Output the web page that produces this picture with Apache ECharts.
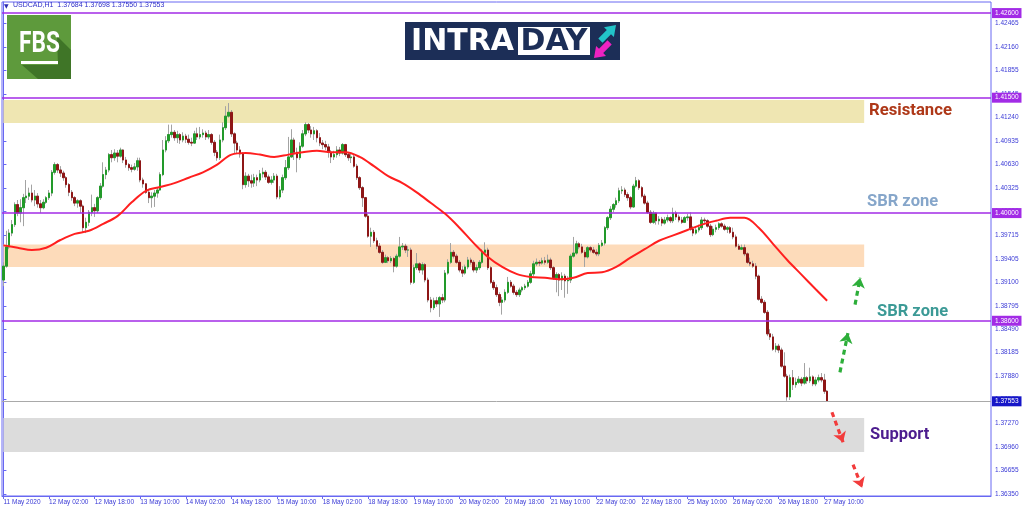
<!DOCTYPE html>
<html><head><meta charset="utf-8">
<script src="https://cdn.jsdelivr.net/npm/echarts@6/dist/echarts.min.js"></script>
<style>html,body{margin:0;padding:0;background:#fff}#c{width:1024px;height:511px}</style>
</head><body><div id="c"></div>
<script>
// ---------------- DATA ----------------
const SLOTS = 347; // bar slots shown on the time axis (incl. empty right margin)
const xTickLabels = ["11 May 2020","12 May 02:00","12 May 18:00","13 May 10:00","14 May 02:00","14 May 18:00","15 May 10:00","18 May 02:00","18 May 18:00","19 May 10:00","20 May 02:00","20 May 18:00","21 May 10:00","22 May 02:00","22 May 18:00","25 May 10:00","26 May 02:00","26 May 18:00","27 May 10:00"];
const yTickValues = [1.42465,1.42160,1.41855,1.41545,1.41240,1.40935,1.40630,1.40325,1.40020,1.39715,1.39405,1.39100,1.38795,1.38490,1.38185,1.37880,1.37575,1.37270,1.36960,1.36655,1.36350];

const opens = [1.3913,1.3931,1.3956,1.3974,1.3985,1.4011,1.4000,1.4007,1.4020,1.4022,
1.4026,1.4017,1.4022,1.4012,1.4007,1.4014,1.4020,1.4026,1.4053,1.4063,
1.4056,1.4052,1.4046,1.4037,1.4027,1.4020,1.4013,1.4016,1.4009,1.3981,
1.3988,1.4001,1.4007,1.4003,1.4020,1.4035,1.4050,1.4056,1.4076,1.4072,
1.4078,1.4074,1.4082,1.4069,1.4063,1.4059,1.4057,1.4060,1.4068,1.4043,
1.4038,1.4027,1.4020,1.4022,1.4026,1.4030,1.4050,1.4082,1.4094,1.4102,
1.4105,1.4098,1.4102,1.4095,1.4100,1.4096,1.4092,1.4091,1.4103,1.4099,
1.4102,1.4104,1.4099,1.4102,1.4092,1.4079,1.4072,1.4095,1.4111,1.4126,
1.4131,1.4103,1.4091,1.4082,1.4077,1.4037,1.4048,1.4042,1.4039,1.4046,
1.4043,1.4051,1.4053,1.4047,1.4040,1.4043,1.4048,1.4021,1.4030,1.4046,
1.4059,1.4073,1.4095,1.4079,1.4072,1.4087,1.4103,1.4115,1.4108,1.4103,
1.4107,1.4098,1.4091,1.4089,1.4086,1.4079,1.4073,1.4076,1.4082,1.4078,
1.4089,1.4076,1.4072,1.4073,1.4061,1.4046,1.4033,1.4020,1.3996,1.3970,
1.3975,1.3964,1.3957,1.3949,1.3936,1.3942,1.3938,1.3941,1.3931,1.3944,
1.3956,1.3957,1.3952,1.3952,1.3910,1.3929,1.3934,1.3926,1.3933,1.3913,
1.3887,1.3877,1.3886,1.3882,1.3890,1.3887,1.3922,1.3936,1.3949,1.3944,
1.3936,1.3926,1.3922,1.3930,1.3939,1.3936,1.3926,1.3929,1.3936,1.3949,
1.3952,1.3929,1.3910,1.3903,1.3894,1.3884,1.3887,1.3897,1.3910,1.3905,
1.3897,1.3894,1.3900,1.3903,1.3905,1.3910,1.3921,1.3934,1.3936,1.3935,
1.3938,1.3936,1.3939,1.3929,1.3916,1.3920,1.3913,1.3918,1.3912,1.3913,
1.3944,1.3948,1.3960,1.3956,1.3949,1.3943,1.3955,1.3952,1.3949,1.3947,
1.3958,1.3961,1.3981,1.3994,1.4005,1.4011,1.4016,1.4029,1.4030,1.4024,
1.4020,1.4008,1.4035,1.4042,1.4033,1.4022,1.4013,1.4001,1.3988,1.4000,
1.3990,1.3992,1.3987,1.3991,1.3994,1.3990,1.4000,1.3995,1.3991,1.3988,
1.3994,1.3995,1.3979,1.3974,1.3978,1.3981,1.3991,1.3990,1.3983,1.3972,
1.3979,1.3981,1.3986,1.3983,1.3979,1.3981,1.3975,1.3969,1.3957,1.3953,
1.3955,1.3947,1.3936,1.3934,1.3931,1.3918,1.3888,1.3884,1.3871,1.3843,
1.3839,1.3823,1.3827,1.3822,1.3801,1.3788,1.3761,1.3786,1.3777,1.3780,
1.3784,1.3779,1.3786,1.3782,1.3787,1.3778,1.3783,1.3786,1.3783,1.37684];

const closes = [1.3931,1.3956,1.3974,1.3985,1.4011,1.4000,1.4007,1.4020,1.4022,1.4026,
1.4017,1.4022,1.4012,1.4007,1.4014,1.4020,1.4026,1.4053,1.4063,1.4056,
1.4052,1.4046,1.4037,1.4027,1.4020,1.4013,1.4016,1.4009,1.3981,1.3988,
1.4001,1.4007,1.4003,1.4020,1.4035,1.4050,1.4056,1.4076,1.4072,1.4078,
1.4074,1.4082,1.4069,1.4063,1.4059,1.4057,1.4060,1.4068,1.4043,1.4038,
1.4027,1.4020,1.4022,1.4026,1.4030,1.4050,1.4082,1.4094,1.4102,1.4105,
1.4098,1.4102,1.4095,1.4100,1.4096,1.4092,1.4091,1.4103,1.4099,1.4102,
1.4104,1.4099,1.4102,1.4092,1.4079,1.4072,1.4095,1.4111,1.4126,1.4131,
1.4103,1.4091,1.4082,1.4077,1.4037,1.4048,1.4042,1.4039,1.4046,1.4043,
1.4051,1.4053,1.4047,1.4040,1.4043,1.4048,1.4021,1.4030,1.4046,1.4059,
1.4073,1.4095,1.4079,1.4072,1.4087,1.4103,1.4115,1.4108,1.4103,1.4107,
1.4098,1.4091,1.4089,1.4086,1.4079,1.4073,1.4076,1.4082,1.4078,1.4089,
1.4076,1.4072,1.4073,1.4061,1.4046,1.4033,1.4020,1.3996,1.3970,1.3975,
1.3964,1.3957,1.3949,1.3936,1.3942,1.3938,1.3941,1.3931,1.3944,1.3956,
1.3957,1.3952,1.3952,1.3910,1.3929,1.3934,1.3926,1.3933,1.3913,1.3887,
1.3877,1.3886,1.3882,1.3890,1.3887,1.3922,1.3936,1.3949,1.3944,1.3936,
1.3926,1.3922,1.3930,1.3939,1.3936,1.3926,1.3929,1.3936,1.3949,1.3952,
1.3929,1.3910,1.3903,1.3894,1.3884,1.3887,1.3897,1.3910,1.3905,1.3897,
1.3894,1.3900,1.3903,1.3905,1.3910,1.3921,1.3934,1.3936,1.3935,1.3938,
1.3936,1.3939,1.3929,1.3916,1.3920,1.3913,1.3918,1.3912,1.3913,1.3944,
1.3948,1.3960,1.3956,1.3949,1.3943,1.3955,1.3952,1.3949,1.3947,1.3958,
1.3961,1.3981,1.3994,1.4005,1.4011,1.4016,1.4029,1.4030,1.4024,1.4020,
1.4008,1.4035,1.4042,1.4033,1.4022,1.4013,1.4001,1.3988,1.4000,1.3990,
1.3992,1.3987,1.3991,1.3994,1.3990,1.4000,1.3995,1.3991,1.3988,1.3994,
1.3995,1.3979,1.3974,1.3978,1.3981,1.3991,1.3990,1.3983,1.3972,1.3979,
1.3981,1.3986,1.3983,1.3979,1.3981,1.3975,1.3969,1.3957,1.3953,1.3955,
1.3947,1.3936,1.3934,1.3931,1.3918,1.3888,1.3884,1.3871,1.3843,1.3839,
1.3823,1.3827,1.3822,1.3801,1.3788,1.3761,1.3786,1.3777,1.3780,1.3784,
1.3779,1.3786,1.3782,1.3787,1.3778,1.3783,1.3786,1.3783,1.37684,1.37553];

const highs = [1.3936,1.3977,1.3979,1.3991,1.4014,1.4017,1.4018,1.4025,1.4043,1.4033,
1.4037,1.4030,1.4026,1.4017,1.4018,1.4022,1.4030,1.4056,1.4066,1.4065,
1.4061,1.4055,1.4048,1.4039,1.4030,1.4022,1.4018,1.4018,1.4011,1.3994,
1.4004,1.4024,1.4012,1.4022,1.4039,1.4066,1.4060,1.4078,1.4082,1.4083,
1.4082,1.4085,1.4083,1.4073,1.4065,1.4063,1.4065,1.4072,1.4072,1.4046,
1.4039,1.4030,1.4027,1.4030,1.4033,1.4053,1.4095,1.4100,1.4115,1.4115,
1.4108,1.4107,1.4104,1.4105,1.4103,1.4102,1.4098,1.4107,1.4111,1.4112,
1.4109,1.4107,1.4108,1.4104,1.4095,1.4082,1.4102,1.4118,1.4139,1.4143,
1.4134,1.4105,1.4094,1.4087,1.4079,1.4053,1.4051,1.4050,1.4051,1.4050,
1.4056,1.4059,1.4056,1.4050,1.4048,1.4052,1.4051,1.4035,1.4050,1.4069,
1.4099,1.4109,1.4098,1.4085,1.4092,1.4108,1.4118,1.4117,1.4113,1.4112,
1.4109,1.4104,1.4095,1.4094,1.4090,1.4082,1.4081,1.4087,1.4086,1.4091,
1.4090,1.4079,1.4078,1.4076,1.4064,1.4048,1.4035,1.4021,1.3999,1.3981,
1.3978,1.3968,1.3961,1.3952,1.3946,1.3944,1.3944,1.3943,1.3947,1.3969,
1.3961,1.3960,1.3957,1.3955,1.3933,1.3948,1.3936,1.3936,1.3935,1.3916,
1.3891,1.3890,1.3891,1.3892,1.3895,1.3926,1.3940,1.3961,1.3952,1.3947,
1.3939,1.3931,1.3933,1.3943,1.3942,1.3939,1.3933,1.3939,1.3953,1.3962,
1.3955,1.3931,1.3913,1.3907,1.3897,1.3891,1.3901,1.3917,1.3913,1.3908,
1.3900,1.3903,1.3905,1.3908,1.3913,1.3925,1.3938,1.3941,1.3939,1.3942,
1.3943,1.3946,1.3942,1.3931,1.3923,1.3922,1.3923,1.3921,1.3918,1.3947,
1.3969,1.3964,1.3962,1.3960,1.3952,1.3957,1.3957,1.3956,1.3953,1.3961,
1.3965,1.3983,1.3996,1.4009,1.4013,1.4020,1.4033,1.4035,1.4033,1.4027,
1.4022,1.4038,1.4047,1.4044,1.4035,1.4025,1.4016,1.4004,1.4003,1.4001,
1.3996,1.3995,1.3995,1.3998,1.3996,1.4007,1.4003,1.3998,1.3995,1.3996,
1.3999,1.4001,1.3983,1.3983,1.3985,1.3995,1.3994,1.3992,1.3986,1.3983,
1.3985,1.3988,1.3988,1.3986,1.3983,1.3983,1.3981,1.3972,1.3960,1.3959,
1.3959,1.3949,1.3942,1.3938,1.3935,1.3920,1.3892,1.3887,1.3874,1.3849,
1.3843,1.3831,1.3830,1.3825,1.3819,1.3791,1.3790,1.3796,1.3786,1.3788,
1.3787,1.3805,1.3788,1.3799,1.3789,1.3787,1.3790,1.3792,1.3791,1.37698];

const lows = [1.3905,1.3929,1.3953,1.3970,1.3982,1.3996,1.3988,1.3983,1.4013,1.4017,
1.4014,1.4009,1.4007,1.4000,1.4005,1.4012,1.4017,1.4022,1.4050,1.4052,
1.4047,1.4042,1.4033,1.4022,1.4016,1.4009,1.4007,1.4000,1.3975,1.3974,
1.3983,1.3996,1.3995,1.4000,1.4017,1.4033,1.4044,1.4053,1.4066,1.4068,
1.4066,1.4072,1.4065,1.4059,1.4055,1.4053,1.4055,1.4055,1.4040,1.4033,
1.4025,1.4013,1.4007,1.4008,1.4020,1.4029,1.4048,1.4079,1.4091,1.4098,
1.4094,1.4091,1.4090,1.4092,1.4091,1.4089,1.4087,1.4090,1.4095,1.4096,
1.4098,1.4095,1.4096,1.4089,1.4074,1.4068,1.4069,1.4092,1.4108,1.4124,
1.4099,1.4078,1.4077,1.4072,1.4031,1.4033,1.4034,1.4033,1.4034,1.4035,
1.4040,1.4046,1.4043,1.4038,1.4037,1.4039,1.4018,1.4018,1.4026,1.4043,
1.4056,1.4072,1.4069,1.4053,1.4069,1.4085,1.4100,1.4104,1.4098,1.4095,
1.4092,1.4087,1.4083,1.4082,1.4072,1.4065,1.4069,1.4072,1.4074,1.4076,
1.4073,1.4068,1.4065,1.4059,1.4043,1.4030,1.4008,1.3994,1.3968,1.3956,
1.3961,1.3953,1.3947,1.3934,1.3935,1.3935,1.3935,1.3923,1.3929,1.3942,
1.3952,1.3948,1.3943,1.3907,1.3908,1.3926,1.3922,1.3920,1.3910,1.3884,
1.3871,1.3874,1.3878,1.3865,1.3883,1.3884,1.3920,1.3934,1.3941,1.3934,
1.3923,1.3917,1.3920,1.3927,1.3933,1.3923,1.3922,1.3926,1.3934,1.3946,
1.3926,1.3908,1.3900,1.3891,1.3879,1.3868,1.3884,1.3895,1.3903,1.3894,
1.3891,1.3891,1.3897,1.3900,1.3903,1.3908,1.3918,1.3931,1.3931,1.3933,
1.3933,1.3934,1.3926,1.3913,1.3897,1.3892,1.3900,1.3890,1.3895,1.3909,
1.3942,1.3946,1.3953,1.3947,1.3930,1.3941,1.3949,1.3947,1.3944,1.3944,
1.3956,1.3958,1.3978,1.3991,1.4001,1.4007,1.4013,1.4025,1.4021,1.4016,
1.4005,1.4007,1.4033,1.4030,1.4020,1.4011,1.3999,1.3986,1.3986,1.3985,
1.3985,1.3983,1.3985,1.3988,1.3987,1.3987,1.3991,1.3988,1.3986,1.3987,
1.3990,1.3977,1.3970,1.3972,1.3975,1.3978,1.3986,1.3981,1.3969,1.3970,
1.3975,1.3978,1.3981,1.3977,1.3974,1.3973,1.3966,1.3955,1.3952,1.3952,
1.3944,1.3934,1.3931,1.3929,1.3914,1.3886,1.3882,1.3869,1.3840,1.3835,
1.3821,1.3819,1.3818,1.3799,1.3786,1.3756,1.3757,1.3770,1.3773,1.3778,
1.3775,1.3777,1.3778,1.3779,1.3775,1.3775,1.3780,1.3780,1.3765,1.37550];

// moving average read every 5 bars
const maBars = [0,5,10,15,20,25,30,35,40,45,50,55,60,65,70,75,80,85,90,95,100,105,110,115,120,125,130,135,140,145,150,155,160,165,170,175,180,185,190,195,200,205,210,215,220,225,230,235,240,245,250,255,260,265,270,275,280,285,289];
const maValues = [1.3958,1.3955,1.3952,1.3955,1.3965,1.3973,1.3977,1.3986,1.3996,1.4014,
1.4029,1.4034,1.4039,1.4046,1.4053,1.4063,1.4076,1.4078,1.4076,1.4073,
1.4076,1.4079,1.4081,1.4079,1.4079,1.4073,1.4061,1.4048,1.4039,1.4027,
1.4013,1.3999,1.3981,1.3961,1.3943,1.3930,1.3921,1.3917,1.3916,1.3914,
1.3916,1.3922,1.3923,1.3930,1.3942,1.3953,1.3964,1.3971,1.3978,1.3985,
1.3990,1.3994,1.3994,1.3981,1.3960,1.3939,1.3920,1.3901,1.3886];

const levelLines = [1.42600, 1.41500, 1.40000, 1.38600];
const lastPrice = 1.37553;
const resistanceZone = [1.4117, 1.4147];
const sbrZone = [1.3930, 1.3959];
const supportZone = [1.36894, 1.37336];
const zoneEndBar = 302;
const greenArrows = [[[293.5,1.3793],[296.3,1.3844]], [[298.8,1.3881],[300.6,1.3916]]];
const redArrows = [[[290.7,1.3741],[294.6,1.3702]], [[298.1,1.3673],[301.3,1.3643]]];
const headerText = "USDCAD,H1  1.37684 1.37698 1.37550 1.37553";

// ---------------- CHART ----------------
const AX = '#6868F2', AXT = '#3A3AD6', PURPLE = '#A22BE6';
const cats = Array.from({length: SLOTS}, (_, i) => String(i));
const ohlc = opens.map((o, i) => [o, closes[i], lows[i], highs[i]]);
const bodies = opens.map((o, i) => [o, closes[i], Math.min(o, closes[i]), Math.max(o, closes[i])]);
const maSeries = new Array(SLOTS).fill(null);
maBars.forEach((b, k) => { maSeries[b] = maValues[k]; });
const isTick = (idx) => idx % 16 === 0 && idx / 16 < xTickLabels.length;

const chart = echarts.init(document.getElementById('c'), null, {renderer: 'canvas'});
chart.setOption({
  animation: false,
  backgroundColor: '#ffffff',
  grid: {left: 2, right: 33, top: 2, bottom: 15, show: true, borderColor: AX, borderWidth: 1, backgroundColor: 'transparent'},
  xAxis: [{
    type: 'category', data: cats, boundaryGap: true,
    axisLine: {lineStyle: {color: AX}},
    axisTick: {show: true, interval: isTick, alignWithLabel: true, length: 3, lineStyle: {color: AX}},
    axisLabel: {interval: isTick, formatter: (v, idx) => xTickLabels[idx / 16] || '', align: 'left',
      margin: 3, color: AXT, fontSize: 6.5, fontFamily: 'Liberation Sans'},
    splitLine: {show: false}
  }, {
    type: 'value', show: false, min: -0.5, max: SLOTS - 0.5
  }],
  yAxis: [{
    type: 'value', position: 'right', min: 1.36322, max: 1.42744, scale: true,
    axisLine: {show: true, lineStyle: {color: AX}},
    axisTick: {show: true, length: 3, lineStyle: {color: AX}, customValues: yTickValues},
    axisLabel: {customValues: yTickValues, formatter: v => v.toFixed(5), color: AXT, fontSize: 6.5,
      fontFamily: 'Liberation Sans', margin: 4},
    splitLine: {show: false}
  }],
  series: [
    {
      type: 'line', data: new Array(SLOTS).fill(null), z: 1, silent: true, showSymbol: false,
      markArea: {silent: true, precision: 5, data: [
        [{xAxis: 0, yAxis: resistanceZone[1], itemStyle: {color: '#EFE6B2'}}, {xAxis: zoneEndBar, yAxis: resistanceZone[0]}],
        [{xAxis: 0, yAxis: sbrZone[1], itemStyle: {color: '#FDDBBA'}}, {xAxis: zoneEndBar, yAxis: sbrZone[0]}],
        [{xAxis: 0, yAxis: supportZone[1], itemStyle: {color: '#DCDCDC'}}, {xAxis: zoneEndBar, yAxis: supportZone[0]}]
      ]}
    },
    {
      type: 'candlestick', data: ohlc, barWidth: 2, z: 3, silent: true,
      itemStyle: {color: '#A3A3A3', color0: '#A3A3A3', borderColor: '#A3A3A3', borderColor0: '#A3A3A3', borderWidth: 1}
    },
    {
      type: 'candlestick', data: bodies, barWidth: 2, z: 4, silent: true,
      itemStyle: {color: '#229A2A', color0: '#8E1616', borderColor: '#229A2A', borderColor0: '#8E1616', borderWidth: 1},
      markLine: {
        silent: true, symbol: ['none', 'none'], animation: false, precision: 5,
        data: levelLines.map(v => ({yAxis: v, lineStyle: {color: PURPLE, width: 1.6, type: 'solid'},
            label: {backgroundColor: PURPLE}}))
          .concat([{yAxis: lastPrice, lineStyle: {color: '#A9A9A9', width: 1, type: 'solid'},
            label: {backgroundColor: '#1616C8'}}]),
        label: {show: true, position: 'end', distance: 1, formatter: p => Number(p.value).toFixed(5),
          color: '#ffffff', fontSize: 6.5, fontFamily: 'Liberation Sans', padding: [2, 3, 1, 3]}
      }
    },
    {
      type: 'line', data: maSeries, connectNulls: true, smooth: 0.35, showSymbol: false, z: 5, silent: true,
      lineStyle: {color: '#FF1F1F', width: 2}
    },
    {
      type: 'lines', coordinateSystem: 'cartesian2d', xAxisIndex: 1, yAxisIndex: 0, z: 6, silent: true,
      symbol: ['none', 'arrow'], symbolSize: 10,
      lineStyle: {color: '#2DAE3A', width: 3.2, type: [5, 4], opacity: 1},
      data: greenArrows.map(c => ({coords: c}))
    },
    {
      type: 'lines', coordinateSystem: 'cartesian2d', xAxisIndex: 1, yAxisIndex: 0, z: 6, silent: true,
      symbol: ['none', 'arrow'], symbolSize: 10,
      lineStyle: {color: '#F23C3C', width: 3.2, type: [5, 4], opacity: 1},
      data: redArrows.map(c => ({coords: c}))
    }
  ],
  graphic: [
    // header
    {type: 'text', left: 4, top: 3, style: {text: '▼', fill: '#2A2AB0', font: '6px "DejaVu Sans"'}},
    {type: 'text', left: 13, top: 2, style: {text: headerText, fill: '#2F2FC8', font: '7px "Liberation Sans"'}},
    // FBS logo
    {type: 'rect', shape: {x: 7, y: 15, width: 64, height: 64}, style: {fill: '#5E9A3C'}},
    {type: 'polygon', shape: {points: [[57,36],[71,50],[71,79],[38,79],[22,65],[58,65]]}, style: {fill: '#3F7527'}},
    {type: 'text', x: 39.5, y: 45, scaleX: 0.78, originX: 0, originY: 0,
      style: {text: 'FBS', fill: '#ffffff', font: 'bold 29px "Roboto"', textAlign: 'center', textVerticalAlign: 'middle'}},
    {type: 'rect', shape: {x: 21, y: 61, width: 37, height: 3}, style: {fill: '#ffffff'}},
    // INTRADAY logo
    {type: 'rect', shape: {x: 405, y: 22, width: 215, height: 38}, style: {fill: '#1C2E57'}},
    {type: 'text', x: 411, y: 42, style: {text: 'INTRA', fill: '#ffffff', font: 'bold 30px "DejaVu Sans"', textVerticalAlign: 'middle'}},
    {type: 'rect', shape: {x: 518, y: 27, width: 72, height: 28}, style: {fill: '#ffffff'}},
    {type: 'text', x: 554, y: 42, style: {text: 'DAY', fill: '#1C2E57', font: 'bold 30px "DejaVu Sans"', textAlign: 'center', textVerticalAlign: 'middle'}},
    {type: 'polygon', shape: {points: [[616,25],[613.9,37.1],[611,34.2],[602.5,42.7],[598.3,38.5],[606.8,30],[604,27.2]]}, style: {fill: '#22C3C8'}},
    {type: 'polygon', shape: {points: [[594,58],[606,55.9],[603.2,53],[611.7,44.5],[607.5,40.3],[599,48.8],[596.1,46]]}, style: {fill: '#EE22C2'}},
    // annotations
    {type: 'text', x: 869, y: 111, style: {text: 'Resistance', fill: '#AE3818', font: 'bold 16.7px "Roboto"', textVerticalAlign: 'middle'}},
    {type: 'text', x: 867, y: 202, style: {text: 'SBR zone', fill: '#86A6CA', font: 'bold 16.5px "Roboto"', textVerticalAlign: 'middle'}},
    {type: 'text', x: 877, y: 312, style: {text: 'SBR zone', fill: '#3C9A96', font: 'bold 16.5px "Roboto"', textVerticalAlign: 'middle'}},
    {type: 'text', x: 870, y: 435, style: {text: 'Support', fill: '#4C1C8E', font: 'bold 16.5px "Roboto"', textVerticalAlign: 'middle'}}
  ]
});
</script></body></html>
